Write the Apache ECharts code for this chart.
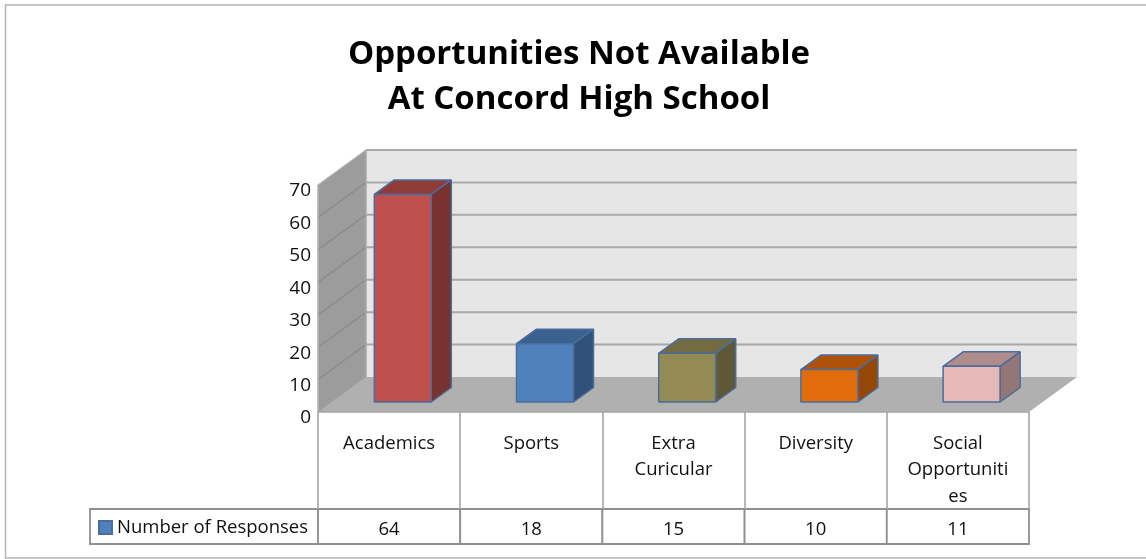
<!DOCTYPE html>
<html><head><meta charset="utf-8">
<style>html,body{margin:0;padding:0;background:#fff}#c{width:1146px;height:559px}</style>
<script src="https://cdn.jsdelivr.net/npm/echarts@6/dist/echarts.min.js"></script>
</head><body><div id="c"></div>
<script>
const categories = ['Academics', 'Sports', 'Extra\nCuricular', 'Diversity', 'Social\nOpportuniti\nes'];
const responses = [64, 18, 15, 10, 11];
const valueTicks = [0, 10, 20, 30, 40, 50, 60, 70];
const seriesName = 'Number of Responses';
const titleLines = 'Opportunities Not Available\nAt Concord High School';

const frontColors = ['#c0504d', '#4f81bd', '#948a54', '#e36c0a', '#e6b9b8'];
const sideColors  = ['#7a3230', '#30527a', '#5e5836', '#954706', '#947676'];
const topColors   = ['#913b39', '#3b618f', '#736b42', '#ad5208', '#ae8c8b'];
const wallDepth = [48, -35];
const barOffset = [13.7, -10];
const barDepth = [20, -14.5];
const barWidth = 57;
const edge = '#4a6d9c';
const font = '"Open Sans", sans-serif';

const poly = (pts, fill, stroke, lw) => ({type: 'polygon', shape: {points: pts},
  style: {fill, stroke: stroke || null, lineWidth: lw || 0, lineJoin: 'bevel'}});
const seg = (a, b, stroke, lw) => ({type: 'line', shape: {x1: a[0], y1: a[1], x2: b[0], y2: b[1]},
  style: {stroke, lineWidth: lw}});

function renderWalls(params, api) {
  const cs = params.coordSys;
  const l = cs.x, r = cs.x + cs.width, t = cs.y, b = cs.y + cs.height;
  const [dx, dy] = wallDepth;
  const children = [
    poly([[l + dx, t + dy], [r + dx, t + dy], [r + dx, b + dy], [l + dx, b + dy]], '#e6e6e6'),
    poly([[l, t], [l + dx, t + dy], [l + dx, b + dy], [l, b]], '#9c9c9c'),
    poly([[l, b], [l + dx, b + dy], [r + dx, b + dy], [r, b]], '#b0b0b0'),
    seg([l, b], [l + dx, b + dy], '#a4a4a4', 1)
  ];
  valueTicks.forEach(v => {
    const y = api.coord([0, v])[1];
    if (v > 0) children.push(seg([l + dx, y + dy], [r + dx, y + dy], '#a9a9a9', 2));
    if (v > 0) children.push(seg([l, y], [l + dx, y + dy], v === 70 ? '#b4b4b4' : '#8a8a8a', 1.2));
  });
  children.push(seg([l + dx, t + dy], [l + dx, b + dy], '#a9a9a9', 1.5));
  children.push(seg([l, t], [l, b], '#b0b0b0', 1.5));
  children.push(seg([l, b], [r, b], '#a6a6a6', 1.5));
  return {type: 'group', children};
}

function renderBar(params, api) {
  const i = api.value(0);
  const base = api.coord([i, 0]);
  const tip = api.coord([i, api.value(1)]);
  const xl = base[0] + barOffset[0] - barWidth / 2, xr = xl + barWidth;
  const yb = base[1] + barOffset[1], yt = tip[1] + barOffset[1];
  const [dx, dy] = barDepth;
  return {type: 'group', children: [
    poly([[xl, yt], [xr, yt], [xr + dx, yt + dy], [xl + dx, yt + dy]], topColors[i], edge, 1.5),
    poly([[xr, yt], [xr + dx, yt + dy], [xr + dx, yb + dy], [xr, yb]], sideColors[i], edge, 1.5),
    poly([[xl, yt], [xr, yt], [xr, yb], [xl, yb]], frontColors[i], edge, 1.5)
  ]};
}

function renderTableCell(params, api) {
  const i = api.value(0);
  const cx = api.coord([i, 0])[0];
  const w = api.size([1, 0])[0];
  const top = 509, h = 35;
  return {type: 'group', children: [
    {type: 'rect', shape: {x: cx - w / 2, y: top, width: w, height: h},
     style: {fill: '#fff', stroke: '#8f8f8f', lineWidth: 1.8}},
    {type: 'text', style: {x: cx, y: top + h / 2 + 3, text: String(api.value(1)), fill: '#111',
      font: '18.5px ' + font, align: 'center', verticalAlign: 'middle'}}
  ]};
}

const chart = echarts.init(document.getElementById('c'));
const idx = responses.map((v, i) => [i, v]);
chart.setOption({
  animation: false,
  backgroundColor: '#fff',
  title: {text: titleLines, left: 574, top: 27, textAlign: 'center',
    textStyle: {fontFamily: font, fontSize: 33, fontWeight: 'bold', color: '#000', lineHeight: 45}},
  legend: {data: [seriesName], left: 98, top: 518, padding: 0, itemGap: 0, itemWidth: 13, itemHeight: 13,
    icon: 'rect', textStyle: {fontFamily: font, fontSize: 18.5, color: '#111'},
    selectedMode: false},
  grid: {left: 318, right: 117, top: 185, bottom: 147},
  xAxis: {type: 'category', data: categories, z: 5,
    axisLine: {show: false},
    axisTick: {show: true, length: 97, lineStyle: {color: '#a0a0a0', width: 1.5}},
    axisLabel: {fontFamily: font, fontSize: 18.5, color: '#111', lineHeight: 26.5, margin: 18, interval: 0, verticalAlign: 'top'}},
  yAxis: {type: 'value', min: 0, max: 70, interval: 10,
    axisLine: {show: false}, axisTick: {show: false}, splitLine: {show: false},
    axisLabel: {fontFamily: font, fontSize: 19, color: '#111', margin: 7, align: 'right', verticalAlign: 'top', lineHeight: 12}},
  graphic: [
    {type: 'rect', z: -1, shape: {x: 5.5, y: 5, width: 1142, height: 553}, style: {fill: '#fff', stroke: '#b4b4b4', lineWidth: 1.5}},
    {type: 'rect', z: 1, shape: {x: 90, y: 509, width: 228, height: 35}, style: {fill: 'none', stroke: '#8f8f8f', lineWidth: 1.8}}
  ],
  series: [
    {type: 'custom', name: 'walls', data: [[0, 0]], renderItem: renderWalls, z: 1, silent: true, clip: false, legendHoverLink: false},
    {type: 'custom', name: seriesName, data: idx, renderItem: renderBar, z: 3, clip: false,
     itemStyle: {color: '#4f81bd', borderColor: edge, borderWidth: 1}, encode: {x: 0, y: 1}},
    {type: 'custom', name: 'table', data: idx, renderItem: renderTableCell, z: 2, clip: false, silent: true}
  ]
});
</script></body></html>
